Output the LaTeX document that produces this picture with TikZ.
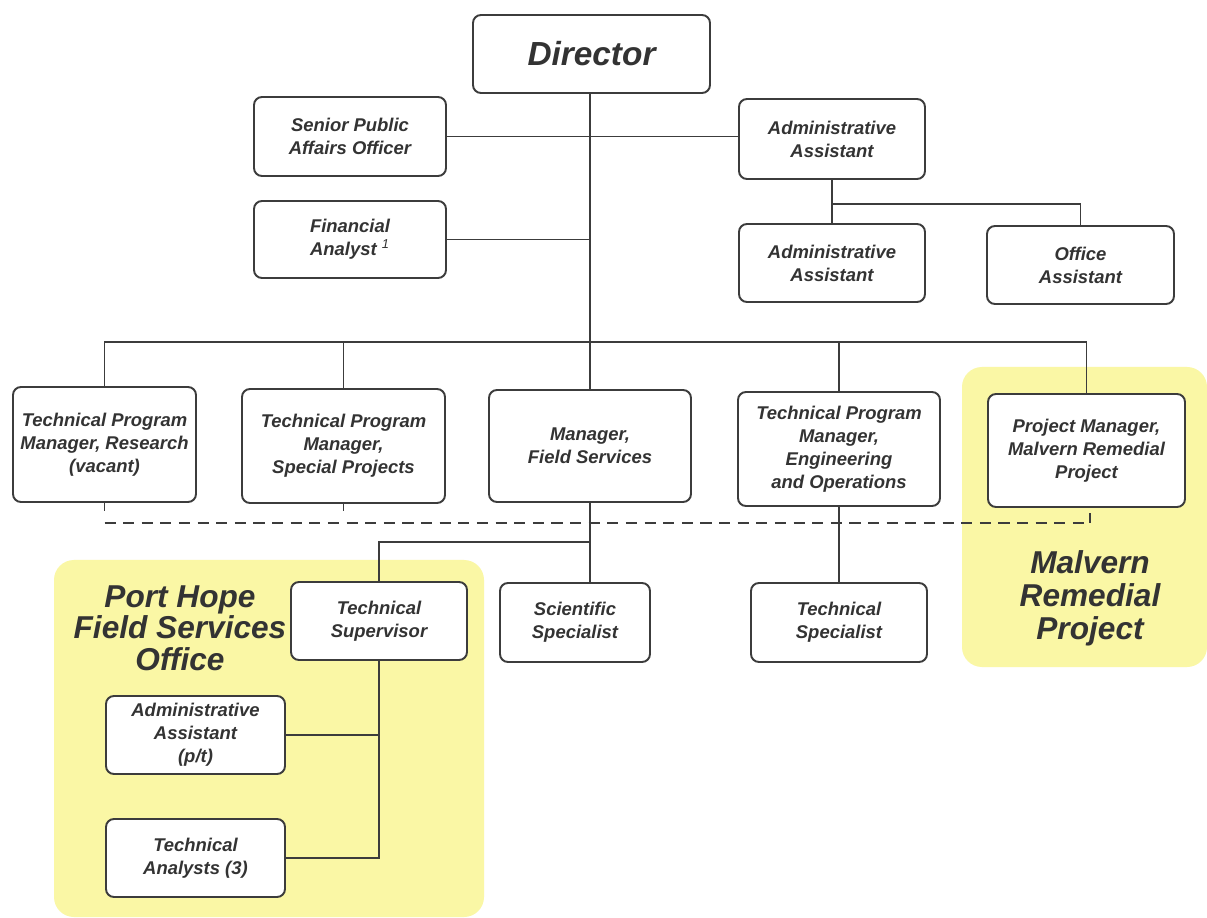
\documentclass[tikz,border=0pt]{standalone}
\usepackage{fontspec}
\setmainfont{Liberation Sans}
\definecolor{linec}{HTML}{3C3C3C}
\definecolor{textc}{HTML}{333333}
\definecolor{zonec}{RGB}{250,247,165}
\begin{document}
\begin{tikzpicture}[x=0.02cm,y=-0.02cm,
  box/.style={draw=linec, line width=1.1pt, rounded corners=0.16cm, fill=white, align=center,
    font=\fontsize{10.5}{13}\selectfont\bfseries\itshape, text=textc, inner sep=2pt},
  sz/.style 2 args={minimum width=#1*0.02cm, minimum height=#2*0.02cm},
  conn/.style={draw=linec, line width=1pt},
  dashconn/.style={draw=linec, line width=1pt, dash pattern=on 6.3pt off 4.3pt},
  zone/.style={fill=zonec, draw=none, rounded corners=0.4cm},
  zonetext/.style={font=\fontsize{18}{18}\selectfont\bfseries\itshape, text=textc, align=center}]
\clip (0,0) rectangle (1207,918);
\fill[white] (0,0) rectangle (1207,918);

% zones
\fill[zone] (54,560) rectangle (484,917);
\fill[zone] (962,367) rectangle (1207,667);
\node[zonetext] (phtext) at (180,628) {Port Hope\\Field Services\\Office};
\node[zonetext, font=\fontsize{18}{18.8}\selectfont\bfseries\itshape] (mrtext) at (1090,598) {Malvern\\Remedial\\Project};

% boxes
\node[box, sz={237}{78}, font=\fontsize{19}{22}\selectfont\bfseries\itshape] (dir) at (591.5,54) {Director};
\node[box, sz={192}{79}] (spao) at (350,136.5) {Senior Public\\Affairs Officer};
\node[box, sz={192}{77}] (fin) at (350,239.5) {Financial\\Analyst {\mdseries\textsuperscript{1}}};
\node[box, sz={186}{80}] (aa1) at (832,139) {Administrative\\Assistant};
\node[box, sz={186}{78}] (aa2) at (832,263) {Administrative\\Assistant};
\node[box, sz={187}{78}] (oa) at (1080.5,265) {Office\\Assistant};
\node[box, sz={183}{115}] (tpr) at (104.5,444.5) {Technical Program\\Manager, Research\\(vacant)};
\node[box, sz={203}{114}] (tps) at (343.5,446) {Technical Program\\Manager,\\Special Projects};
\node[box, sz={202}{112}] (mfs) at (590,446) {Manager,\\Field Services};
\node[box, sz={202}{114}] (tpe) at (839,449) {Technical Program\\Manager,\\Engineering\\and Operations};
\node[box, sz={197}{113}] (pm) at (1086.5,450.5) {Project Manager,\\Malvern Remedial\\Project};
\node[box, sz={176}{78}] (ts) at (379,621) {Technical\\Supervisor};
\node[box, sz={150}{79}] (ss) at (575,622.5) {Scientific\\Specialist};
\node[box, sz={176}{79}] (tsp) at (839,622.5) {Technical\\Specialist};
\node[box, sz={179}{78}] (aap) at (195.5,735) {Administrative\\Assistant\\(p/t)};
\node[box, sz={179}{78}] (ta) at (195.5,858) {Technical\\Analysts (3)};

% connectors
\coordinate (bus) at (590,342);
\coordinate (aabus) at (832,204);
\coordinate (fsbus) at (590,542);
\coordinate (dl) at (104.5,523);
\coordinate (dr) at (1090,523);

\draw[conn] (mfs.north |- dir.south) -- (mfs.north);
\draw[conn] (spao.east) -- (spao.east -| aa1.west);
\draw[conn] (fin.east) -- (fin.east -| mfs.north);
\draw[conn] (aa1.south) -- (aa2.north);
\draw[conn] (aabus) -| (oa.north);
\draw[conn] (tpr.north) |- (bus) -| (pm.north);
\draw[conn] (tps.north) -- (tps.north |- bus);
\draw[conn] (tpe.north) -- (tpe.north |- bus);
\draw[conn] (tpr.south) -- (tpr.south |- 0,511);
\draw[conn] (tps.south) -- (tps.south |- 0,511);
\draw[dashconn] (dl) -- (dr);
\draw[conn] (dr) -- ++(0,-10);
\draw[conn] (mfs.south) -- (mfs.south |- ss.north);
\draw[conn] (fsbus) -| (ts.north);
\draw[conn] (tpe.south) -- (tsp.north);
\draw[conn] (ts.south) -- (ts.south |- ta.east) -- (ta.east);
\draw[conn] (aap.east) -- (aap.east -| ts.south);
\end{tikzpicture}
\end{document}
